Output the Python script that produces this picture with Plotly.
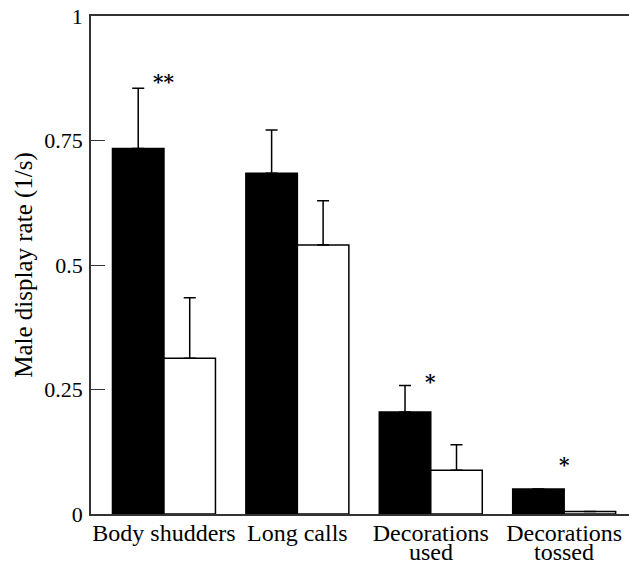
import plotly.graph_objects as go

categories = ["Body shudders", "Long calls", "Decorations<br>used", "Decorations<br>tossed"]
black_values = [0.734, 0.684, 0.205, 0.050]
black_errors = [0.121, 0.087, 0.053, 0.0]
white_values = [0.313, 0.540, 0.088, 0.005]
white_errors = [0.121, 0.089, 0.051, 0.0]
significance = ["**", "", "*", "*"]
star_levels = [0.867, None, 0.266, 0.098]
y_ticks = [0, 0.25, 0.5, 0.75, 1]
y_tick_labels = ["0", "0.25", "0.5", "0.75", "1"]

FONT = "Liberation Serif"
x_idx = list(range(len(categories)))
first_lines = [c.split("<br>")[0] for c in categories]
second_lines = [c.split("<br>")[1] if "<br>" in c else "" for c in categories]

fig = go.Figure()
fig.add_trace(go.Bar(
    x=x_idx, y=black_values,
    marker=dict(color="black", line=dict(color="black", width=1.5)),
    error_y=dict(type="data", symmetric=False, array=black_errors,
                 arrayminus=[0] * len(black_errors),
                 color="black", thickness=1.5, width=6),
    showlegend=False,
))
fig.add_trace(go.Bar(
    x=x_idx, y=white_values,
    marker=dict(color="white", line=dict(color="black", width=1.5)),
    error_y=dict(type="data", symmetric=False, array=white_errors,
                 arrayminus=[0] * len(white_errors),
                 color="black", thickness=1.5, width=6),
    showlegend=False,
))

for i, (s, lvl) in enumerate(zip(significance, star_levels)):
    if s:
        fig.add_annotation(x=i, y=lvl, text="<b>" + s + "</b>", showarrow=False,
                           font=dict(family="DejaVu Serif", size=20, color="black"),
                           xanchor="center", yanchor="middle")

# second line of the two-line category labels (tighter line spacing than plotly's default)
for i, t in enumerate(second_lines):
    if t:
        fig.add_annotation(x=i, xref="x", y=0, yref="paper", text=t, showarrow=False,
                           font=dict(family=FONT, size=24, color="black"),
                           xanchor="center", yanchor="top", yshift=-23)

fig.update_layout(
    template="none",
    width=629, height=564,
    margin=dict(l=91, r=0, t=16, b=50),
    paper_bgcolor="white", plot_bgcolor="white",
    barmode="group", bargap=0.228, bargroupgap=0,
    font=dict(family=FONT, size=22, color="black"),
)
fig.update_xaxes(
    range=[-0.547, 3.486], automargin=False,
    tickmode="array", tickvals=x_idx, ticktext=first_lines,
    ticks="", showgrid=False, zeroline=False,
    showline=True, linecolor="#333", linewidth=1.5, mirror=True,
    tickfont=dict(family=FONT, size=24, color="black"),
    ticklabelstandoff=-4,
)
fig.update_yaxes(
    range=[0, 1], automargin=False,
    tickmode="array", tickvals=y_ticks, ticktext=y_tick_labels,
    ticks="inside", ticklen=14, tickwidth=1.2, tickcolor="#333",
    showgrid=False, zeroline=False,
    showline=True, linecolor="#333", linewidth=1.5, mirror=False,
    tickfont=dict(family=FONT, size=22, color="black"),
    ticklabelstandoff=2, ticklabeloverflow="allow",
    title=dict(text="Male display rate (1/s)", standoff=5,
               font=dict(family=FONT, size=25, color="black")),
)

fig.write_html("out.html",
               config={"displayModeBar": False},
               post_script="document.body.style.margin='0';document.body.style.overflow='hidden';")
